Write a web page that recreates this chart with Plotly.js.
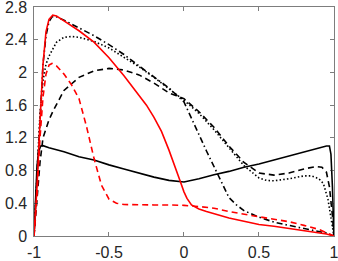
<!DOCTYPE html>
<html><head><meta charset="utf-8">
<script src="https://cdn.plot.ly/plotly-3.0.1.min.js"></script>
<style>html,body{margin:0;padding:0;background:#fff;overflow:hidden;width:338px;height:261px;position:relative;}#chart{position:absolute;left:0;top:-8px;width:346px;height:269px;}</style>
</head><body><div id="chart"></div>
<script>
// Black solid
const xBlackSolid = [-1,-0.99,-0.98,-0.97,-0.955,-0.94,-0.9,-0.8,-0.7,-0.6,-0.5,-0.4,-0.3,-0.2,-0.1,0,0.1,0.2,0.3,0.4,0.5,0.6,0.7,0.8,0.9,0.95,0.97,0.98,0.99,1];
const yBlackSolid = [0,0.5,0.85,1.03,1.10,1.105,1.08,1.03,0.97,0.93,0.87,0.82,0.77,0.72,0.68,0.66,0.70,0.75,0.79,0.84,0.88,0.93,0.98,1.03,1.08,1.10,1.10,1.0,0.6,0];
// Black dashed
const xBlackDash = [-1,-0.98,-0.96,-0.94,-0.9,-0.87,-0.8,-0.7,-0.6,-0.5,-0.4,-0.3,-0.2,-0.1,0,0.1,0.2,0.3,0.4,0.5,0.6,0.7,0.8,0.88,0.92,0.95,0.97,0.99,1];
const yBlackDash = [0,0.5,0.9,1.2,1.42,1.54,1.78,1.94,2.02,2.05,2.03,1.97,1.87,1.75,1.68,1.52,1.33,1.10,0.90,0.77,0.745,0.77,0.82,0.85,0.84,0.78,0.6,0.25,0];
// Black dotted
const xBlackDot = [-1,-0.98,-0.96,-0.94,-0.92,-0.9,-0.85,-0.8,-0.75,-0.7,-0.6,-0.5,-0.4,-0.3,-0.2,-0.1,0,0.1,0.2,0.3,0.4,0.5,0.55,0.6,0.7,0.8,0.85,0.9,0.93,0.96,0.98,1];
const yBlackDot = [0,0.8,1.5,1.9,2.1,2.2,2.37,2.43,2.44,2.43,2.38,2.30,2.19,2.07,1.94,1.80,1.66,1.50,1.30,1.08,0.86,0.71,0.68,0.675,0.70,0.735,0.735,0.70,0.64,0.45,0.2,0];
// Black dash-dot
const xBlackDashDot = [-1,-0.98,-0.96,-0.94,-0.92,-0.9,-0.88,-0.86,-0.8,-0.7,-0.6,-0.5,-0.4,-0.3,-0.2,-0.1,0,0.05,0.1,0.15,0.2,0.25,0.3,0.35,0.4,0.5,0.6,0.7,0.8,0.9,0.95,1];
const yBlackDashDot = [0,0.7,1.5,2.1,2.45,2.62,2.68,2.69,2.64,2.55,2.45,2.34,2.22,2.08,1.95,1.81,1.64,1.45,1.24,1.04,0.85,0.66,0.47,0.38,0.31,0.23,0.17,0.13,0.09,0.055,0.035,0];
// Red solid
const xRedSolid = [-1,-0.98,-0.96,-0.94,-0.92,-0.9,-0.875,-0.85,-0.8,-0.7,-0.6,-0.5,-0.4,-0.3,-0.25,-0.2,-0.15,-0.1,-0.05,-0.025,0,0.02,0.05,0.1,0.15,0.2,0.3,0.4,0.5,0.6,0.7,0.8,0.9,0.95,1];
const yRedSolid = [0,0.6,1.4,2.1,2.5,2.65,2.70,2.69,2.63,2.51,2.37,2.18,1.96,1.72,1.60,1.45,1.28,1.05,0.81,0.67,0.54,0.46,0.38,0.33,0.30,0.275,0.22,0.18,0.14,0.12,0.095,0.07,0.045,0.025,0];
// Red dashed
const xRedDash = [-1,-0.98,-0.96,-0.94,-0.92,-0.9,-0.88,-0.85,-0.8,-0.75,-0.7,-0.65,-0.6,-0.55,-0.5,-0.45,-0.4,-0.3,-0.2,-0.1,0,0.1,0.2,0.3,0.4,0.5,0.6,0.7,0.8,0.9,0.95,1];
const yRedDash = [0,0.5,1.2,1.7,1.98,2.09,2.11,2.08,1.98,1.85,1.68,1.34,0.95,0.62,0.45,0.40,0.385,0.38,0.38,0.38,0.375,0.36,0.34,0.30,0.265,0.235,0.205,0.175,0.13,0.08,0.04,0];

const xTicks = [-1,-0.5,0,0.5,1];
const xTickText = ['-1','-0.5','0','0.5','1'];
const yTicks = [0,0.4,0.8,1.2,1.6,2,2.4,2.8];
const yTickText = ['0','0.4','0.8','1.2','1.6','2','2.4','2.8'];

const DASH = '6px,4px', DOT = '1.5px,2.2px', DASHDOT = '6px,3px,1.5px,3px';
function tr(x, y, color, dash) {
  return {x: x, y: y, type: 'scatter', mode: 'lines', line: {color: color, dash: dash, width: 1.6}, hoverinfo: 'skip'};
}
const data = [
  tr(xBlackSolid, yBlackSolid, '#000000', 'solid'),
  tr(xBlackDash, yBlackDash, '#000000', DASH),
  tr(xBlackDot, yBlackDot, '#000000', DOT),
  tr(xBlackDashDot, yBlackDashDot, '#000000', DASHDOT),
  tr(xRedDash, yRedDash, '#ff0000', DASH),
  tr(xRedSolid, yRedSolid, '#ff0000', 'solid')
];
const axisCommon = {
  showgrid: false, zeroline: false, showline: true, mirror: 'ticks',
  linecolor: '#262626', linewidth: 0.6, ticks: 'inside', ticklen: 4, tickwidth: 0.6, tickcolor: '#262626',
  tickfont: {family: 'Liberation Sans, Arial, sans-serif', size: 16, color: '#262626'}
};
const layout = {
  width: 346, height: 269,
  margin: {l: 34, r: 12, t: 15, b: 25},
  paper_bgcolor: '#ffffff', plot_bgcolor: '#ffffff',
  showlegend: false,
  xaxis: Object.assign({}, axisCommon, {range: [-1, 1.0004], tickvals: xTicks, ticktext: xTickText, ticklabelstandoff: 2}),
  yaxis: Object.assign({}, axisCommon, {range: [0, 2.8006], tickvals: yTicks, ticktext: yTickText, ticklabelstandoff: 3})
};
Plotly.newPlot('chart', data, layout, {staticPlot: true, displayModeBar: false});
</script>
</body></html>
